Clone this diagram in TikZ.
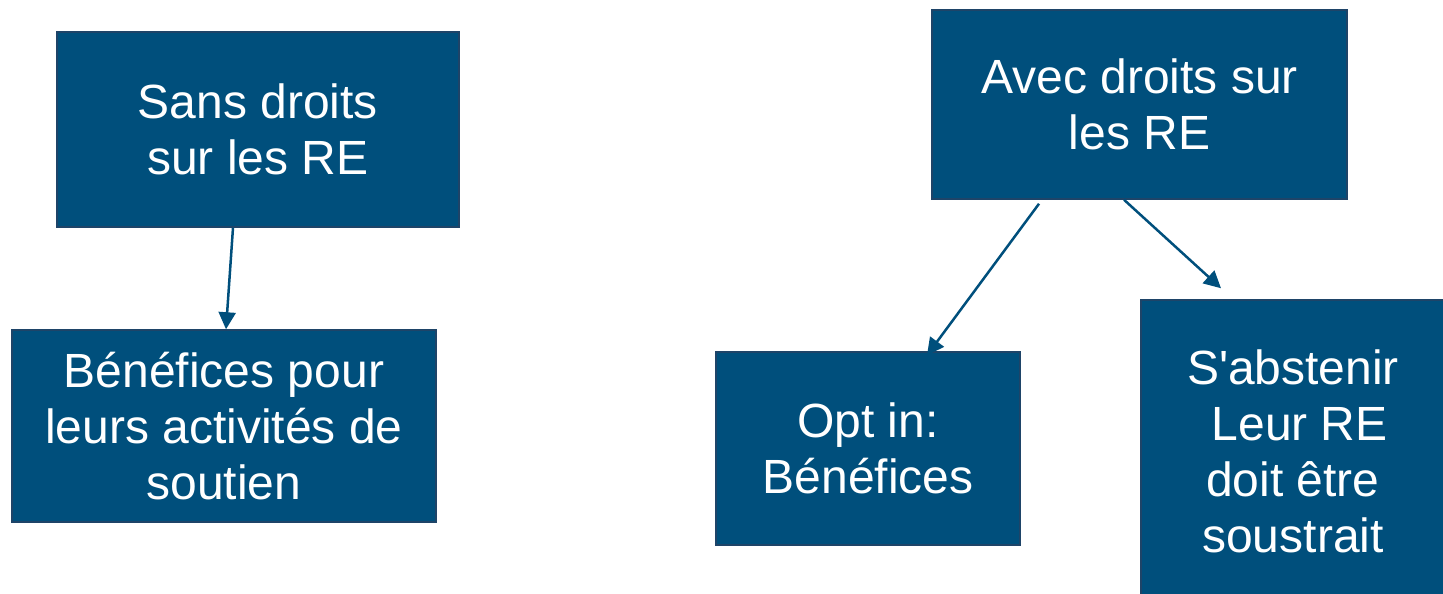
\documentclass[tikz,border=0pt]{standalone}
\usepackage{fontspec}
\setmainfont{Liberation Sans}
\usetikzlibrary{shapes, arrows.meta}
\definecolor{boxcol}{HTML}{004F7C}
\definecolor{edgecol}{HTML}{1E4468}
\tikzstyle{choice} = [rectangle, inner sep=0pt, text centered, draw=edgecol, line width=1.5pt, fill=boxcol, text=white, font=\fontsize{48pt}{56pt}\selectfont]
\tikzstyle{arrow} = [draw=boxcol, line width=2.5pt, -{Triangle[length=17pt, width=17pt]}]

\begin{document}
\begin{tikzpicture}[x=1pt, y=-1pt, align=center]
    \useasboundingbox (0,0) rectangle (1443,594);
    \node (sans) [choice, minimum width=402pt, minimum height=195pt] at (258,129.5) {Sans droits\\sur les RE};
    \node (benef) [choice, minimum width=424pt, minimum height=192pt, node distance=296.5pt, below of=sans, xshift=-34pt] {B\'en\'efices pour\\leurs activit\'es de\\soutien};
    \node (avec) [choice, minimum width=415pt, minimum height=189pt] at (1139.5,104.5) {Avec droits sur\\les RE};
    \node (opt) [choice, minimum width=304pt, minimum height=193pt, node distance=344pt, below of=avec, xshift=-271.5pt] {Opt in:\\B\'en\'efices};
    \node (abst) [choice, minimum width=304pt, minimum height=302pt, node distance=346.5pt, below of=avec, xshift=153.5pt] {S\textquotesingle abstenir\\\ Leur RE\\doit \^etre\\soustrait};

    \draw [arrow] ([xshift=-25pt]sans.south) -- ([xshift=2pt]benef.north);
    \draw [arrow] ([xshift=-100.5pt, yshift=-4pt]avec.south) -- ([xshift=59pt, yshift=-4pt]opt.north);
    \draw [arrow] ([xshift=-15.5pt]avec.south) -- ([xshift=-72pt, yshift=11pt]abst.north);
\end{tikzpicture}
\end{document}
